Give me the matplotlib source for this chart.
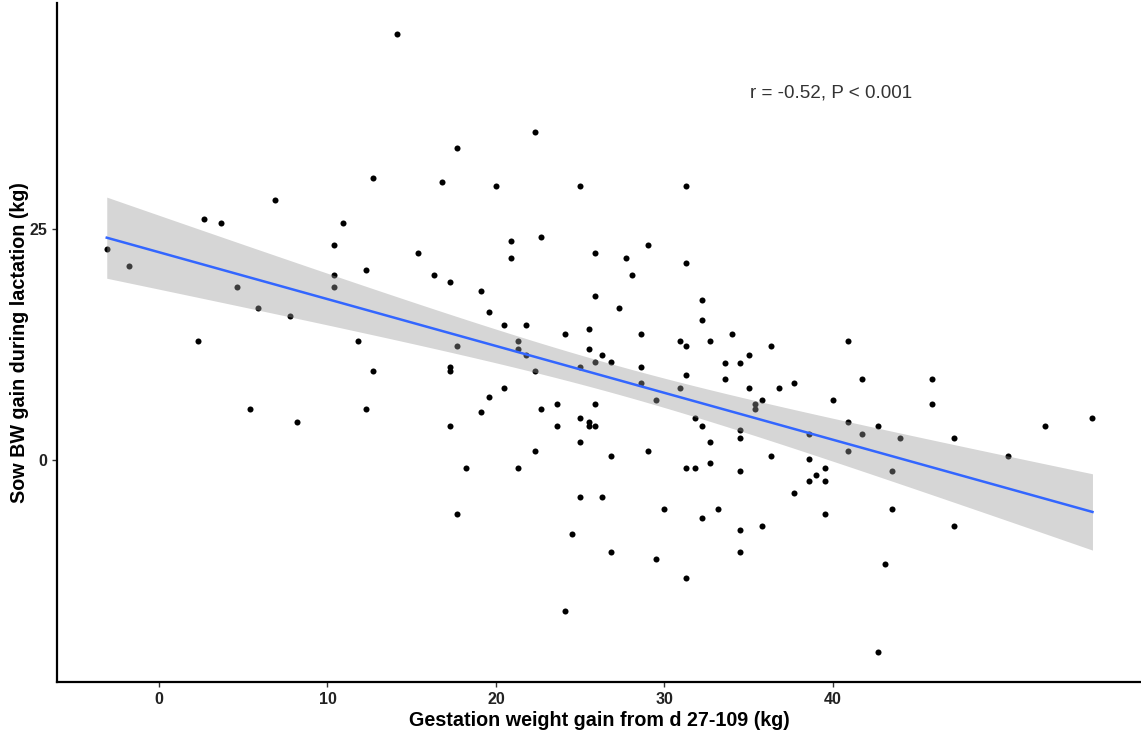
import matplotlib
matplotlib.use("Agg")
import matplotlib.pyplot as plt
import numpy as np

plt.rcParams['font.family'] = ['Liberation Sans', 'DejaVu Sans']

# gestation weight gain d 27-109 (kg)
gest_gain = [-3.1, -1.8, 2.7, 3.7, 2.3, 4.6, 5.9, 6.9, 5.4, 7.8,
             8.2, 10.4, 10.9, 10.4, 10.4, 11.8, 12.3, 12.7, 12.7, 12.3,
             14.1, 15.4, 16.3, 16.8, 17.3, 17.7, 17.7, 17.3, 17.3, 17.3,
             17.7, 18.2, 19.1, 19.6, 20.0, 20.5, 20.5, 19.6, 19.1, 20.9,
             20.9, 21.3, 21.3, 21.3, 21.8, 21.8, 22.3, 22.3, 22.3, 22.7,
             22.7, 24.1, 24.1, 23.6, 23.6, 24.5, 25.0, 25.0, 25.0, 25.0,
             25.0, 25.5, 25.5, 25.5, 25.5, 25.9, 25.9, 25.9, 25.9, 25.9,
             26.3, 26.3, 26.8, 26.8, 26.8, 27.3, 27.7, 28.1, 28.6, 28.6,
             28.6, 29.0, 29.0, 29.5, 29.5, 30.0, 30.9, 30.9, 31.3, 31.3,
             31.3, 31.3, 31.3, 31.3, 31.8, 31.8, 32.2, 32.2, 32.2, 32.2,
             32.7, 32.7, 32.7, 33.2, 33.6, 33.6, 34.0, 34.5, 34.5, 34.5,
             34.5, 34.5, 34.5, 35.0, 35.0, 35.4, 35.4, 35.8, 35.8, 36.3,
             36.3, 36.8, 37.7, 37.7, 38.6, 38.6, 38.6, 39.0, 39.5, 39.5,
             39.5, 40.0, 40.9, 40.9, 40.9, 41.7, 41.7, 42.7, 42.7, 43.1,
             43.5, 43.5, 44.0, 45.9, 45.9, 47.2, 47.2, 50.4, 52.6, 55.4]

# sow BW gain during lactation (kg)
bw_gain = [22.9, 21.0, 26.1, 25.7, 12.9, 18.8, 16.5, 28.2, 5.6, 15.6,
           4.1, 23.3, 25.7, 20.1, 18.8, 12.9, 20.6, 30.6, 9.7, 5.6,
           46.1, 22.4, 20.1, 30.1, 19.3, 33.8, 12.4, 10.1, 9.7, 3.7,
           -5.8, -0.8, 18.3, 16.1, 29.7, 14.6, 7.8, 6.9, 5.2, 23.7,
           21.9, 12.9, 12.0, -0.8, 14.6, 11.4, 35.5, 9.7, 1.0, 24.2,
           5.6, 13.7, -16.3, 6.1, 3.7, -8.0, 29.7, 10.1, 4.6, 2.0,
           -4.0, 14.2, 12.0, 4.1, 3.7, 22.4, 17.8, 10.6, 6.1, 3.7,
           11.4, -4.0, 10.6, 0.5, -9.9, 16.5, 21.9, 20.1, 13.7, 10.1,
           8.4, 23.3, 1.0, 6.5, -10.7, -5.3, 12.9, 7.8, 29.7, 21.4,
           12.4, 9.2, -0.8, -12.7, 4.6, -0.8, 17.3, 15.2, 3.7, -6.3,
           12.9, 2.0, -0.3, -5.3, 10.5, 8.8, 13.7, 10.5, 3.3, 2.4,
           -1.2, -7.6, -9.9, 11.4, 7.8, 6.1, 5.6, 6.5, -7.1, 12.4,
           0.5, 7.8, 8.4, -3.5, 2.8, 0.1, -2.2, -1.6, -0.8, -2.2,
           -5.8, 6.5, 12.9, 4.1, 1.0, 8.8, 2.8, 3.7, -20.8, -11.2,
           -1.2, -5.3, 2.4, 8.8, 6.1, 2.4, -7.1, 0.5, 3.7, 4.6]

x_ticks = [0, 10, 20, 30, 40]
y_ticks = [0, 25]
stat_label = "r = -0.52, P < 0.001"

x = np.array(gest_gain)
y = np.array(bw_gain)

# linear fit with 95% confidence band (like geom_smooth(method='lm'))
n = len(x)
slope, intercept = np.polyfit(x, y, 1)
resid = y - (slope * x + intercept)
s = np.sqrt(np.sum(resid ** 2) / (n - 2))
xs = np.linspace(x.min(), x.max(), 80)
ys = slope * xs + intercept
se = s * np.sqrt(1.0 / n + (xs - x.mean()) ** 2 / np.sum((x - x.mean()) ** 2))
t_crit = 1.975
lo = ys - t_crit * se
hi = ys + t_crit * se

fig = plt.figure(figsize=(11.41, 7.36), dpi=100)
ax = fig.add_axes([0.05, 0.0734, 0.95, 0.9226])

ax.scatter(x, y, s=19, color='black', linewidths=0, zorder=2)
ax.fill_between(xs, lo, hi, color='#999999', alpha=0.4, linewidth=0, zorder=3)
ax.plot(xs, ys, color='#3366FF', linewidth=1.8, zorder=4)

ax.text(35.1, 39.7, stat_label, fontsize=13.6, color='#333333', va='center', ha='left')

ax.set_xlim(-6.05, 58.28)
ax.set_ylim(-24.0, 49.5)
ax.set_xticks(x_ticks)
ax.set_yticks(y_ticks)
ax.tick_params(axis='both', length=3.5, width=1.0, color='#333333',
               labelsize=11.5, labelcolor='#222222')
for lbl in ax.get_xticklabels() + ax.get_yticklabels():
    lbl.set_fontweight('bold')

for side in ['top', 'right']:
    ax.spines[side].set_visible(False)
for side in ['left', 'bottom']:
    ax.spines[side].set_linewidth(1.6)
    ax.spines[side].set_color('black')

ax.set_xlabel('Gestation weight gain from d 27-109 (kg)', fontsize=14.2,
              fontweight='bold', labelpad=3)
ax.set_ylabel('Sow BW gain during lactation (kg)', fontsize=14.2,
              fontweight='bold', labelpad=0.5)

fig.savefig('out.png', dpi=100)
